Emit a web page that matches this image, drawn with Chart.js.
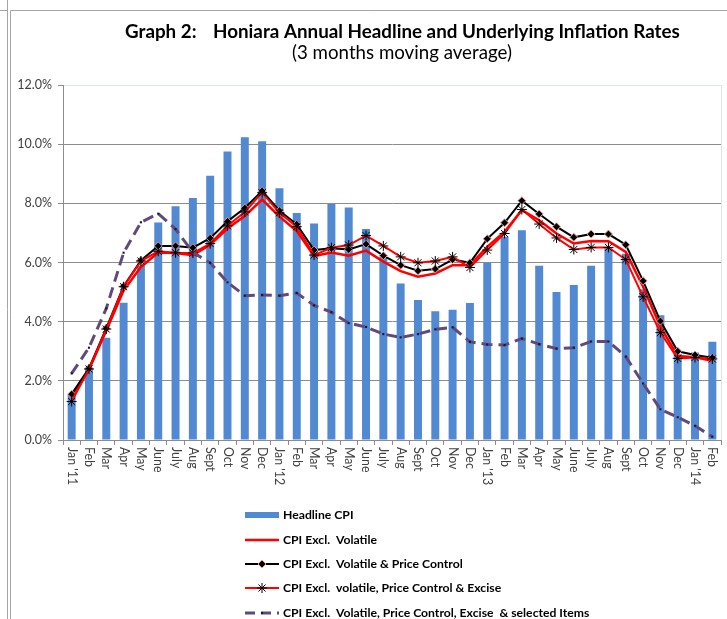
<!DOCTYPE html>
<html>
<head>
<meta charset="utf-8">
<script src="https://cdn.jsdelivr.net/npm/chart.js@4.4.1/dist/chart.umd.min.js"></script>
<style>
  body { margin: 0; background: #fff; }
  #wrap { width: 727px; height: 619px; position: relative; }
</style>
</head>
<body>
<div id="wrap"><canvas id="myChart"></canvas></div>
<script>
const months = ["Jan '11", 'Feb', 'Mar', 'Apr', 'May', 'June', 'July', 'Aug', 'Sept', 'Oct', 'Nov', 'Dec',
  "Jan '12", 'Feb', 'Mar', 'Apr', 'May', 'June', 'July', 'Aug', 'Sept', 'Oct', 'Nov', 'Dec',
  "Jan '13", 'Feb', 'Mar', 'Apr', 'May', 'June', 'July', 'Aug', 'Sept', 'Oct', 'Nov', 'Dec',
  "Jan '14", 'Feb'];

const headlineCPI = [1.52, 2.40, 3.46, 4.64, 5.90, 7.35, 7.90, 8.18, 8.93, 9.75, 10.23, 10.10,
  8.51, 7.67, 7.32, 7.98, 7.86, 7.13, 6.19, 5.29, 4.73, 4.35, 4.40, 4.63,
  5.99, 6.87, 7.09, 5.89, 5.00, 5.24, 5.89, 6.48, 6.30, 5.10, 4.22, 2.90, 2.96, 3.32];

const exclVolatile = [1.45, 2.38, 3.70, 5.05, 5.85, 6.34, 6.32, 6.25, 6.60, 7.15, 7.57, 8.13,
  7.55, 7.06, 6.22, 6.34, 6.23, 6.40, 6.03, 5.71, 5.52, 5.63, 5.91, 5.91,
  6.53, 7.04, 7.77, 7.43, 6.98, 6.64, 6.73, 6.72, 6.36, 5.18, 3.83, 2.84, 2.80, 2.68];

const exclVolPriceCtrl = [1.55, 2.42, 3.78, 5.20, 6.07, 6.56, 6.56, 6.50, 6.82, 7.39, 7.84, 8.42,
  7.75, 7.29, 6.42, 6.48, 6.44, 6.62, 6.23, 5.91, 5.72, 5.78, 6.10, 5.99,
  6.80, 7.34, 8.09, 7.64, 7.21, 6.85, 6.96, 6.96, 6.60, 5.38, 4.02, 3.00, 2.87, 2.78];

const exclVolPriceExcise = [1.30, 2.40, 3.75, 5.18, 6.05, 6.38, 6.33, 6.32, 6.64, 7.24, 7.71, 8.36,
  7.68, 7.21, 6.25, 6.50, 6.59, 6.91, 6.56, 6.19, 5.99, 6.05, 6.19, 5.83,
  6.42, 6.98, 7.79, 7.30, 6.83, 6.44, 6.51, 6.51, 6.10, 4.84, 3.63, 2.76, 2.79, 2.74];

const exclSelected = [2.25, 3.12, 4.45, 6.33, 7.36, 7.65, 7.13, 6.34, 5.99, 5.33, 4.88, 4.90,
  4.88, 4.97, 4.55, 4.32, 3.95, 3.82, 3.58, 3.47, 3.58, 3.74, 3.81, 3.32,
  3.23, 3.21, 3.43, 3.24, 3.09, 3.12, 3.33, 3.33, 2.82, 1.91, 1.04, 0.77, 0.48, 0.11];

const FONT = 'Lato, "Open Sans", sans-serif';
const COLOR_BAR = '#5189d3';
const COLOR_RED = '#ff0000';
const COLOR_PURPLE = '#604a7b';
const COLOR_GRID = '#8c8c8c';

// font size that makes text fill a given width
function fitSize(c, weight, text, width) {
  c.font = weight + '16px ' + FONT;
  return 16 * width / c.measureText(text).width;
}

// frame, title, rotated month labels and the stacked legend
const decorPlugin = {
  id: 'decor',
  beforeDraw(chart) {
    const c = chart.ctx;
    const a = chart.chartArea;
    c.save();
    c.strokeStyle = '#a6a6a6';
    c.lineWidth = 1;
    c.beginPath();
    c.moveTo(7.5, 0); c.lineTo(7.5, chart.height);
    c.moveTo(0, 10.5); c.lineTo(7, 10.5);
    c.moveTo(10.5, chart.height); c.lineTo(10.5, 10.5); c.lineTo(chart.width, 10.5);
    c.stroke();
    c.strokeStyle = '#dce3ee';
    c.beginPath();
    c.moveTo(a.right + 0.5, a.top); c.lineTo(a.right + 0.5, a.bottom);
    c.stroke();
    c.restore();
  },
  afterDraw(chart) {
    const c = chart.ctx;
    const a = chart.chartArea;
    const xs = chart.scales.x;
    c.save();
    // title
    const mainTitle = 'Honiara Annual Headline and Underlying Inflation Rates';
    const subTitle = '(3 months moving average)';
    const tSize = fitSize(c, 'bold ', mainTitle, 467);
    const sSize = fitSize(c, '', subTitle, 220);
    c.fillStyle = '#000';
    c.textBaseline = 'middle';
    c.textAlign = 'left';
    c.font = 'bold ' + tSize.toFixed(2) + 'px ' + FONT;
    c.fillText('Graph 2:', 125, 32);
    c.fillText(mainTitle, 213, 32);
    c.font = sSize.toFixed(2) + 'px ' + FONT;
    c.fillText(subTitle, 292, 53);

    // month labels, reading top to bottom
    c.font = '12.4px ' + FONT;
    c.fillStyle = '#404040';
    chart.data.labels.forEach((lab, i) => {
      c.save();
      c.translate(xs.getPixelForTick(i), a.bottom + 7);
      c.rotate(Math.PI / 2);
      c.fillText(lab, 0, 0);
      c.restore();
    });

    // legend
    const rows = [515, 540, 564, 588, 613];
    const x0 = 245, x1 = 279, xm = 262;
    chart.data.datasets.forEach((ds, i) => {
      const y = rows[i];
      c.save();
      if (ds.type === 'bar') {
        c.fillStyle = ds.backgroundColor;
        c.fillRect(x0, y - 3, x1 - x0, 6);
      } else {
        c.strokeStyle = ds.borderColor;
        c.lineWidth = ds.borderWidth;
        c.setLineDash(ds.borderDash ? [10, 6] : []);
        c.beginPath();
        c.moveTo(x0, y); c.lineTo(x1, y);
        c.stroke();
        c.setLineDash([]);
        if (ds.pointRadius > 0) {
          c.fillStyle = ds.pointBackgroundColor;
          c.strokeStyle = ds.pointBorderColor;
          c.lineWidth = ds.pointBorderWidth;
          Chart.helpers.drawPoint(c, {
            pointStyle: ds.pointStyle,
            radius: ds.pointRadius,
            rotation: 0,
            borderWidth: ds.pointBorderWidth
          }, xm, y);
        }
      }
      c.restore();
      c.font = 'bold 12.2px ' + FONT;
      c.textAlign = 'left';
      c.fillStyle = '#000';
      c.textBaseline = 'middle';
      c.fillText(ds.label, 283, y);
    });
    c.restore();
  }
};

const ctx = document.getElementById('myChart');

new Chart(ctx, {
  data: {
    labels: months,
    datasets: [
      {
        type: 'bar',
        label: 'Headline CPI',
        data: headlineCPI,
        backgroundColor: COLOR_BAR,
        borderWidth: 0,
        barPercentage: 0.46,
        categoryPercentage: 1,
        order: 10
      },
      {
        type: 'line',
        label: 'CPI Excl.  Volatile',
        data: exclVolatile,
        borderColor: COLOR_RED,
        borderWidth: 2.5,
        pointRadius: 0,
        tension: 0,
        order: 4
      },
      {
        type: 'line',
        label: 'CPI Excl.  Volatile & Price Control',
        data: exclVolPriceCtrl,
        borderColor: '#000',
        borderWidth: 2,
        pointStyle: 'rectRot',
        pointRadius: 4,
        pointBackgroundColor: '#000',
        pointBorderColor: '#e89a9a',
        pointBorderWidth: 1,
        tension: 0,
        order: 3
      },
      {
        type: 'line',
        label: 'CPI Excl.  volatile, Price Control & Excise',
        data: exclVolPriceExcise,
        borderColor: COLOR_RED,
        borderWidth: 2,
        pointStyle: 'star',
        pointRadius: 5,
        pointBackgroundColor: '#000',
        pointBorderColor: '#000',
        pointBorderWidth: 1,
        tension: 0,
        order: 2
      },
      {
        type: 'line',
        label: 'CPI Excl.  Volatile, Price Control, Excise  & selected Items',
        data: exclSelected,
        borderColor: COLOR_PURPLE,
        borderWidth: 3,
        borderDash: [11, 6],
        pointStyle: 'rect',
        pointRadius: 1.5,
        pointBackgroundColor: '#1e1630',
        pointBorderColor: '#1e1630',
        pointBorderWidth: 0,
        tension: 0,
        order: 1
      }
    ]
  },
  options: {
    responsive: true,
    maintainAspectRatio: false,
    animation: false,
    layout: { padding: { left: 10, top: 85, right: 2, bottom: 0 } },
    plugins: {
      legend: { display: false },
      title: { display: false },
      tooltip: { enabled: false }
    },
    scales: {
      x: {
        offset: true,
        grid: {
          offset: true,
          drawOnChartArea: false,
          drawTicks: true,
          tickLength: 5,
          color: COLOR_GRID
        },
        border: { color: COLOR_GRID },
        ticks: { display: false },
        afterFit: (scale) => { scale.height = 179; }
      },
      y: {
        min: 0,
        max: 12,
        ticks: {
          stepSize: 2,
          padding: 6,
          color: '#404040',
          font: { family: FONT, size: 12.5 },
          callback: (v) => v.toFixed(1) + '%'
        },
        grid: {
          color: (c) => (c.tick && c.tick.value === 12 ? '#dce3ee' : COLOR_GRID),
          tickColor: COLOR_GRID,
          tickLength: 5
        },
        border: { color: COLOR_GRID },
        afterFit: (scale) => { scale.width = 53; }
      }
    }
  },
  plugins: [decorPlugin]
});
</script>
</body>
</html>
